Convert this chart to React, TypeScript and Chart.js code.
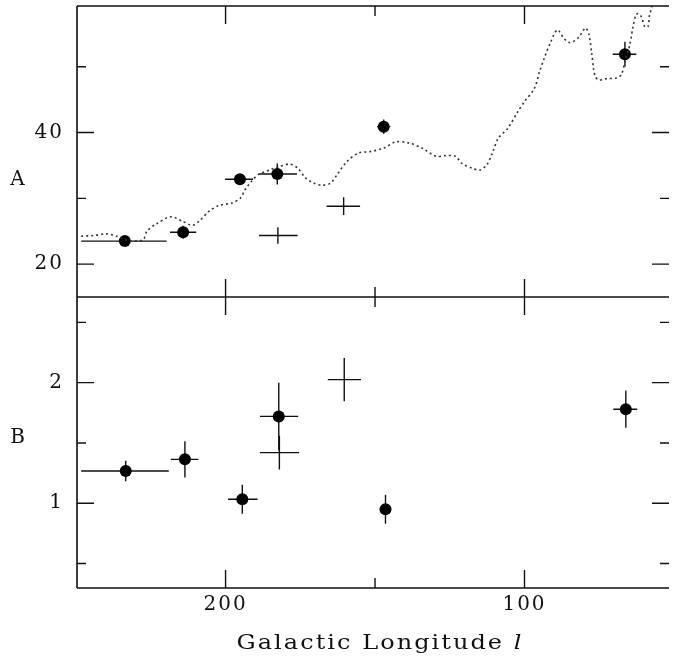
import React, { useEffect, useRef } from 'react';
import { Chart, registerables } from 'chart.js';
Chart.register(...registerables);

// ---------- data ----------
// dotted model curve (panel A)
const curveLon = [248.3, 244.1, 239.7, 236.4, 233.7, 231.5, 227.6, 226.3, 223.2, 218.3, 214.4, 211.1, 208.9, 205.6, 202.3, 197.9, 195.1, 193.5, 191.3, 189.1, 184.7, 181.9, 178.6, 175.9, 173.2, 170.4, 167.7, 164.9, 162.7, 159.4, 155.5, 151.7, 147.3, 142.9, 138.5, 134.1, 129.7, 126.4, 123.1, 120.9, 117.6, 114.9, 112.6, 111.0, 108.8, 105.5, 102.2, 100.0, 96.7, 95.0, 93.4, 91.2, 89.0, 86.8, 85.1, 83.5, 81.8, 79.6, 78.5, 77.5, 76.9, 76.3, 75.2, 72.5, 69.2, 67.6, 66.4, 64.8, 63.7, 62.8, 62.0, 60.9, 59.8, 58.7, 58.2, 57.7, 57.2];
const curveA = [24.24, 24.35, 24.6, 24.24, 23.74, 23.5, 23.7, 25.0, 26.1, 27.2, 26.5, 25.9, 26.5, 28.0, 28.9, 29.3, 30.0, 31.3, 32.6, 33.6, 34.4, 34.85, 35.2, 34.6, 33.1, 32.3, 32.0, 32.3, 33.6, 35.6, 36.9, 37.1, 37.6, 38.6, 38.4, 37.6, 36.4, 36.5, 36.4, 35.3, 34.6, 34.3, 35.1, 36.6, 39.1, 40.7, 43.2, 44.7, 46.7, 49.2, 51.3, 53.8, 55.6, 54.3, 53.7, 53.9, 54.5, 55.9, 55.0, 52.0, 49.7, 48.5, 48.0, 48.2, 48.3, 48.8, 50.8, 53.3, 56.1, 57.8, 58.1, 57.6, 56.1, 56.1, 57.8, 58.6, 59.6];

// panel A: filled points
const dotLonA = [233.7, 214.2, 195.2, 182.7, 147.1, 66.4];
const dotValA = [23.5, 24.85, 32.9, 33.7, 40.9, 51.9];
const dotLonFromA = [248.3, 218.6, 200.2, 188.8, 149.3, 70.5];
const dotLonToA = [219.7, 209.8, 190.8, 176.1, 144.9, 62.6];
const dotErrA = [0.3, 1.0, 0.3, 1.6, 1.1, 1.9];

// panel A: open crosses
const crossLonA = [182.5, 160.5];
const crossValA = [24.35, 28.8];
const crossLonFromA = [188.8, 166.2];
const crossLonToA = [175.9, 155.0];
const crossErrA = [1.25, 1.35];

// panel B: filled points
const dotLonB = [233.4, 213.6, 194.4, 182.2, 146.5, 66.1];
const dotValB = [1.267, 1.364, 1.033, 1.72, 0.95, 1.78];
const dotLonFromB = [248.3, 218.3, 199.2, 188.5, 146.5, 70.3];
const dotLonToB = [219.0, 209.1, 189.3, 175.7, 146.5, 62.3];
const dotErrB = [0.085, 0.15, 0.12, 0.28, 0.12, 0.155];

// panel B: open crosses
const crossLonB = [182.0, 160.3];
const crossValB = [1.42, 2.025];
const crossLonFromB = [188.5, 165.8];
const crossLonToB = [175.4, 154.7];
const crossErrB = [0.14, 0.18];

// ticks
const xMajorTicks = [200, 100];
const xMinorTicks = [150];
const aMajorTicks = [20, 40];
const aMinorTicks = [30, 50];
const bMajorTicks = [1, 2];
const bMinorTicks = [0.5, 1.5, 2.5];

const FONT = '"DejaVu Serif", serif';
const INK = '#111';

const errorGroups = [
  { axis: 'yA', lon: dotLonA, val: dotValA, from: dotLonFromA, to: dotLonToA, err: dotErrA },
  { axis: 'yA', lon: crossLonA, val: crossValA, from: crossLonFromA, to: crossLonToA, err: crossErrA },
  { axis: 'yB', lon: dotLonB, val: dotValB, from: dotLonFromB, to: dotLonToB, err: dotErrB },
  { axis: 'yB', lon: crossLonB, val: crossValB, from: crossLonFromB, to: crossLonToB, err: crossErrB },
];

const pts = (xs: number[], ys: number[]) => xs.map((x, i) => ({ x, y: ys[i] }));

const framePlugin = {
  id: 'frame',
  beforeDraw(chart: any) {
    chart.ctx.letterSpacing = '2px';
  },
  beforeDatasetsDraw(chart: any) {
    const ctx = chart.ctx;
    const x = chart.scales.x;
    ctx.save();
    ctx.strokeStyle = INK;
    ctx.lineWidth = 1.4;
    for (const g of errorGroups) {
      const y = chart.scales[g.axis];
      for (let i = 0; i < g.lon.length; i++) {
        const px = x.getPixelForValue(g.lon[i]);
        const py = y.getPixelForValue(g.val[i]);
        ctx.beginPath();
        ctx.moveTo(x.getPixelForValue(g.from[i]), py);
        ctx.lineTo(x.getPixelForValue(g.to[i]), py);
        ctx.moveTo(px, y.getPixelForValue(g.val[i] + g.err[i]));
        ctx.lineTo(px, y.getPixelForValue(g.val[i] - g.err[i]));
        ctx.stroke();
      }
    }
    ctx.restore();
  },
  afterDraw(chart: any) {
    const ctx = chart.ctx;
    const x = chart.scales.x;
    const yA = chart.scales.yA;
    const yB = chart.scales.yB;
    const L = chart.chartArea.left;
    const R = chart.chartArea.right;
    const T = yA.top;
    const M = yA.bottom;
    const Bt = yB.bottom;
    ctx.save();
    ctx.letterSpacing = '0px';
    ctx.strokeStyle = INK;
    ctx.lineWidth = 1.6;
    ctx.beginPath();
    ctx.moveTo(L, T); ctx.lineTo(R, T);
    ctx.moveTo(L, M); ctx.lineTo(R, M);
    ctx.moveTo(L, Bt); ctx.lineTo(R, Bt);
    ctx.moveTo(L, T); ctx.lineTo(L, Bt);
    ctx.stroke();
    ctx.lineWidth = 1.4;
    ctx.beginPath();
    const xt = (v: number, len: number) => {
      const px = x.getPixelForValue(v);
      ctx.moveTo(px, T); ctx.lineTo(px, T + len);
      ctx.moveTo(px, M - len); ctx.lineTo(px, M + len);
      ctx.moveTo(px, Bt); ctx.lineTo(px, Bt - len);
    };
    xMajorTicks.forEach((v) => xt(v, 18));
    xMinorTicks.forEach((v) => xt(v, 10));
    const yt = (s: any, v: number, len: number) => {
      const py = s.getPixelForValue(v);
      ctx.moveTo(L, py); ctx.lineTo(L + len, py);
      ctx.moveTo(R, py); ctx.lineTo(R - len, py);
    };
    aMajorTicks.forEach((v) => yt(yA, v, 17));
    aMinorTicks.forEach((v) => yt(yA, v, 9));
    bMajorTicks.forEach((v) => yt(yB, v, 17));
    bMinorTicks.forEach((v) => yt(yB, v, 9));
    ctx.stroke();

    // panel labels
    ctx.fillStyle = INK;
    ctx.textBaseline = 'alphabetic';
    ctx.textAlign = 'center';
    ctx.font = `20px ${FONT}`;
    ctx.fillText('A', 17.5, 185);
    ctx.fillText('B', 17.5, 443);

    // axis title with italic l (slightly widened serif)
    const sxScale = 1.2;
    ctx.textAlign = 'left';
    ctx.letterSpacing = '1.7px';
    const main = 'Galactic Longitude ';
    ctx.font = `20px ${FONT}`;
    const w1 = ctx.measureText(main).width;
    ctx.font = `italic 20px ${FONT}`;
    const w2 = ctx.measureText('l').width;
    const cx = 380;
    const total = (w1 + w2) * sxScale;
    ctx.translate(cx - total / 2, 649);
    ctx.scale(sxScale, 1);
    ctx.font = `20px ${FONT}`;
    ctx.fillText(main, 0, 0);
    ctx.font = `italic 20px ${FONT}`;
    ctx.fillText('l', w1, 0);
    ctx.restore();
  },
};

const noPadY = (s: any) => { s.width = 77; s.paddingTop = 0; s.paddingBottom = 0; };

export default function App() {
  const ref = useRef<HTMLCanvasElement | null>(null);
  useEffect(() => {
    if (!ref.current) return;
    const tickFont = { family: FONT, size: 20 };
    const chart = new Chart(ref.current, {
      type: 'scatter',
      data: {
        datasets: [
          {
            type: 'line',
            data: pts(curveLon, curveA),
            yAxisID: 'yA',
            borderColor: '#333',
            borderWidth: 1.6,
            borderDash: [2, 3],
            pointRadius: 0,
            tension: 0.3,
            fill: false,
          } as any,
          { data: pts(dotLonA, dotValA), yAxisID: 'yA', pointRadius: 6, backgroundColor: '#000', borderColor: '#000', borderWidth: 0 },
          { data: pts(crossLonA, crossValA), yAxisID: 'yA', pointRadius: 0 },
          { data: pts(dotLonB, dotValB), yAxisID: 'yB', pointRadius: 6, backgroundColor: '#000', borderColor: '#000', borderWidth: 0 },
          { data: pts(crossLonB, crossValB), yAxisID: 'yB', pointRadius: 0 },
        ],
      },
      options: {
        animation: false,
        responsive: false,
        maintainAspectRatio: false,
        devicePixelRatio: 1,
        layout: { padding: { top: 4, right: 0, bottom: 0, left: 0 } },
        plugins: { legend: { display: false }, tooltip: { enabled: false } },
        events: [],
        scales: {
          x: {
            type: 'linear',
            position: 'bottom',
            reverse: true,
            min: 51.66,
            max: 249.7,
            grid: { display: false, drawTicks: false },
            border: { display: false },
            afterBuildTicks: (s: any) => { s.ticks = [200, 150, 100].map((v) => ({ value: v })); },
            afterFit: (s: any) => { s.height = 74; s.paddingLeft = 0; s.paddingRight = 0; },
            ticks: {
              callback: (v: any) => (xMajorTicks.includes(v) ? String(v) : ''),
              font: tickFont,
              color: INK,
              padding: 5,
              maxRotation: 0,
              autoSkip: false,
            },
          },
          yA: {
            type: 'linear',
            position: 'left',
            stack: 'panels',
            stackWeight: 1,
            weight: 1,
            min: 15,
            max: 59.24,
            grid: { display: false, drawTicks: false },
            border: { display: false },
            afterBuildTicks: (s: any) => { s.ticks = aMajorTicks.map((v) => ({ value: v })); },
            afterFit: noPadY,
            ticks: { font: tickFont, color: INK, padding: 13 },
          },
          yB: {
            type: 'linear',
            position: 'left',
            stack: 'panels',
            stackWeight: 1,
            weight: 0,
            min: 0.2975,
            max: 2.71,
            grid: { display: false, drawTicks: false },
            border: { display: false },
            afterBuildTicks: (s: any) => { s.ticks = bMajorTicks.map((v) => ({ value: v })); },
            afterFit: noPadY,
            ticks: { font: tickFont, color: INK, padding: 13 },
          },
        },
      } as any,
      plugins: [framePlugin],
    });
    return () => chart.destroy();
  }, []);
  return (
    <div style={{ position: 'absolute', left: 0, top: 0, width: 675, height: 662, background: '#fff' }}>
      <canvas ref={ref} width={675} height={662} style={{ display: 'block' }} />
    </div>
  );
}
